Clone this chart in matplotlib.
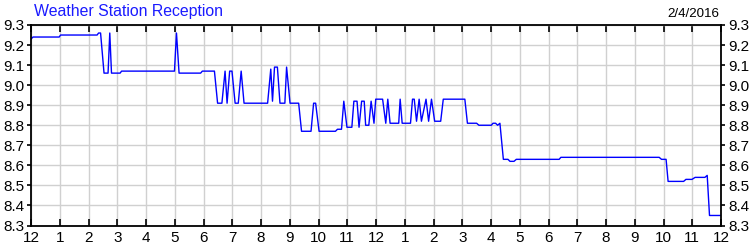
import matplotlib
matplotlib.use("Agg")
import matplotlib.pyplot as plt
import numpy as np

# hours since midnight, signal reading
hours = [0.00, 0.07, 0.98, 1.03, 2.30, 2.35, 2.42, 2.54, 2.68, 2.74, 2.80, 3.10, 3.15,
         4.99, 5.06, 5.15, 5.90, 5.96, 6.38, 6.49, 6.64, 6.75, 6.82, 6.91, 6.99, 7.10,
         7.21, 7.31, 7.41, 8.23, 8.34, 8.40, 8.47, 8.57, 8.66, 8.83, 8.89, 9.01, 9.31,
         9.41, 9.74, 9.83, 9.90, 10.02, 10.59, 10.66, 10.80, 10.88, 10.99, 11.16, 11.23,
         11.34, 11.41, 11.50, 11.59, 11.64, 11.75, 11.83, 11.93, 11.99, 12.23, 12.34,
         12.41, 12.49, 12.79, 12.84, 12.91, 13.20, 13.27, 13.33, 13.41, 13.50, 13.58,
         13.74, 13.83, 13.93, 14.04, 14.25, 14.34, 15.09, 15.18, 15.50, 15.58, 16.01,
         16.07, 16.16, 16.23, 16.31, 16.43, 16.59, 16.66, 16.80, 16.88, 18.37, 18.43,
         21.85, 21.93, 22.09, 22.16, 22.70, 22.78, 22.99, 23.10, 23.44, 23.52, 23.60, 24.00]
reading = [9.23, 9.24, 9.24, 9.25, 9.25, 9.26, 9.26, 9.06, 9.06, 9.26, 9.06, 9.06, 9.07,
           9.07, 9.26, 9.06, 9.06, 9.07, 9.07, 8.91, 8.91, 9.07, 8.91, 9.07, 9.07, 8.91,
           8.91, 9.07, 8.91, 8.91, 9.08, 8.92, 9.09, 9.09, 8.91, 8.91, 9.09, 8.91, 8.91,
           8.77, 8.77, 8.91, 8.91, 8.77, 8.77, 8.78, 8.78, 8.92, 8.79, 8.79, 8.92,
           8.92, 8.79, 8.92, 8.92, 8.80, 8.80, 8.92, 8.81, 8.93, 8.93, 8.81,
           8.93, 8.81, 8.81, 8.93, 8.81, 8.81, 8.93, 8.93, 8.82, 8.93, 8.82,
           8.93, 8.82, 8.93, 8.82, 8.82, 8.93, 8.93, 8.81, 8.81, 8.80, 8.80,
           8.81, 8.81, 8.80, 8.81, 8.63, 8.63, 8.62, 8.62, 8.63, 8.63, 8.64,
           8.64, 8.63, 8.63, 8.52, 8.52, 8.53, 8.53, 8.54, 8.54, 8.55, 8.35, 8.35]

x_ticks = list(range(0, 25))
x_labels = ["12", "1", "2", "3", "4", "5", "6", "7", "8", "9", "10", "11",
            "12", "1", "2", "3", "4", "5", "6", "7", "8", "9", "10", "11", "12"]
y_ticks = [8.3, 8.4, 8.5, 8.6, 8.7, 8.8, 8.9, 9.0, 9.1, 9.2, 9.3]

title = "Weather Station Reception"
date = "2/4/2016"

plt.rcParams["font.family"] = ["Liberation Sans", "DejaVu Sans"]

fig = plt.figure(figsize=(7.5, 2.5), dpi=100)
ax = fig.add_axes([31 / 750, 1 - 225.5 / 250, 690 / 750, 200.5 / 250])

ax.plot(hours, reading, color="#0000ff", lw=1.0)

ax.set_xlim(0, 24)
ax.set_ylim(8.3, 9.3)
ax.set_xticks(x_ticks)
ax.set_xticklabels(x_labels, fontsize=11)
ax.set_yticks(y_ticks)
ax.set_yticklabels([f"{v:.1f}" for v in y_ticks], fontsize=11)
ax.grid(True, color="#d0d0d0", lw=1.0)
ax.set_axisbelow(True)

ax.tick_params(axis="x", direction="in", length=5, width=1.2, top=True, pad=4)
ax.tick_params(axis="y", direction="out", length=3, width=1.2, right=True,
               labelright=True, pad=2)
for s in ax.spines.values():
    s.set_linewidth(1.3)

fig.text(34 / 750, 1 - 4 / 250, title, color="#1a1aff", fontsize=11.4,
         ha="left", va="top")
fig.text(719 / 750, 1 - 8 / 250, date, color="black", fontsize=9.6,
         ha="right", va="top")

fig.savefig("out.png", dpi=100)
